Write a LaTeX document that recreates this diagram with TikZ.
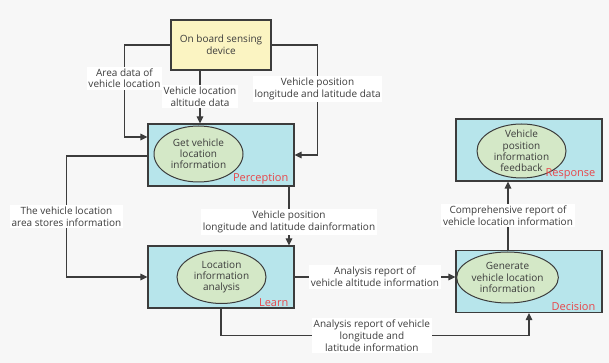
\documentclass[tikz,border=0pt]{standalone}
\usepackage{fontspec}
\setmainfont{Open Sans}
\usetikzlibrary{arrows.meta,positioning,calc,shapes.geometric}
\definecolor{boxblue}{HTML}{B7E5EB}
\definecolor{sensyellow}{HTML}{FBF4C2}
\definecolor{ovalgreen}{HTML}{D4E8C7}
\definecolor{stagered}{HTML}{E8464A}
\definecolor{inkgray}{HTML}{3C3C3C}
\definecolor{backgray}{HTML}{F7F7F7}
\tikzset{
  stage/.style={draw=inkgray, fill=boxblue, line width=1.1pt,
                minimum width=146pt, minimum height=62pt},
  sensor/.style={draw=inkgray, fill=sensyellow, line width=1.1pt, align=center,
                 minimum width=100pt, minimum height=50pt, text=inkgray,
                 font=\fontsize{10}{11.5}\selectfont},
  oval/.style={ellipse, draw=inkgray, fill=ovalgreen, line width=1pt,
               align=center, inner xsep=0pt, inner ysep=-8pt, minimum width=89pt,
               text=inkgray, font=\fontsize{10}{11.2}\selectfont},
  tag/.style={text=stagered, anchor=south east, inner sep=0pt,
              font=\fontsize{11}{13}\selectfont},
  sig/.style={-{Triangle[length=7pt,width=6.5pt]}, line width=1.1pt, draw=inkgray},
  lbl/.style={fill=white, align=center, inner sep=1.8pt, text=inkgray,
              font=\fontsize{10}{11.7}\selectfont},
}
\begin{document}
\begin{tikzpicture}[x=1pt,y=1pt]
  \fill[backgray] (0,0) rectangle (609,363);
  \useasboundingbox (0,0) rectangle (609,363);

  \node[sensor] (sense) at (221,318) {On board sensing\\device};
  \node[stage] (perc) at (221,208) {};
  \node[stage] (learn) at (221,86) {};
  \node[stage] (decide) at (529,81.5) {};
  \node[stage] (resp) at (529,213) {};

  \node[oval,minimum height=56pt] (percoval) at ([xshift=-22.5pt,yshift=1pt]perc.center)
    {Get vehicle\\location\\information};
  \node[oval,minimum height=53pt] (learnoval) at ([xshift=0.5pt]learn.center)
    {Location\\information\\analysis};
  \node[oval,minimum height=51pt] (decideoval) at ([xshift=-21.5pt,yshift=4pt]decide.center)
    {Generate\\vehicle location\\information};
  \node[oval,minimum height=54pt] (respoval) at ([xshift=-7.5pt,yshift=-1pt]resp.center)
    {Vehicle\\position\\information\\feedback};

  \node[tag] (perctag) at ([xshift=-6pt,yshift=2pt]perc.south east) {Perception};
  \node[tag] (learntag) at ([xshift=-6pt,yshift=2pt]learn.south east) {Learn};
  \node[tag] (decidetag) at ([xshift=-7pt,yshift=2pt]decide.south east) {Decision};
  \node[tag] (resptag) at ([xshift=-7pt,yshift=2pt]resp.south east) {Response};

  % sensing device to perception
  \draw[sig] (sense.west) -- ++(-46pt,0) |- node[lbl,pos=0.18]
    {Area data of\\vehicle location} ([yshift=18pt]perc.west);
  \draw[sig] ([xshift=-21pt]sense.south) -- node[lbl]
    {Vehicle location\\altitude data} ([xshift=-21pt]perc.north);
  \draw[sig] (sense.east) -- ++(46pt,0) |- node[lbl,pos=0.2]
    {Vehicle position\\longitude and latitude data} (perc.east);

  % perception to learn
  \draw[sig] ([yshift=-1pt]perc.west) -- ++(-81pt,0) |- node[lbl,pos=0.25]
    {The vehicle location\\area stores information} (learn.west);
  \draw[sig] ([xshift=68pt]perc.south) -- node[lbl,pos=0.6]
    {Vehicle position\\longitude and latitude dainformation} ([xshift=68pt]learn.north);

  % learn to decision
  \draw[sig] (learn.east) -- node[lbl]
    {Analysis report of\\vehicle altitude information} (decide.west |- learn.east);
  \draw[sig] (learn.south) -- ++(0,-27pt) -| node[lbl,pos=0.245]
    {Analysis report of vehicle\\longitude and\\latitude information} (decide.south);

  % decision to response
  \draw[sig] ([xshift=-21pt]decide.north) -- node[lbl]
    {Comprehensive report of\\vehicle location information} ([xshift=-21pt]resp.south);
\end{tikzpicture}
\end{document}
